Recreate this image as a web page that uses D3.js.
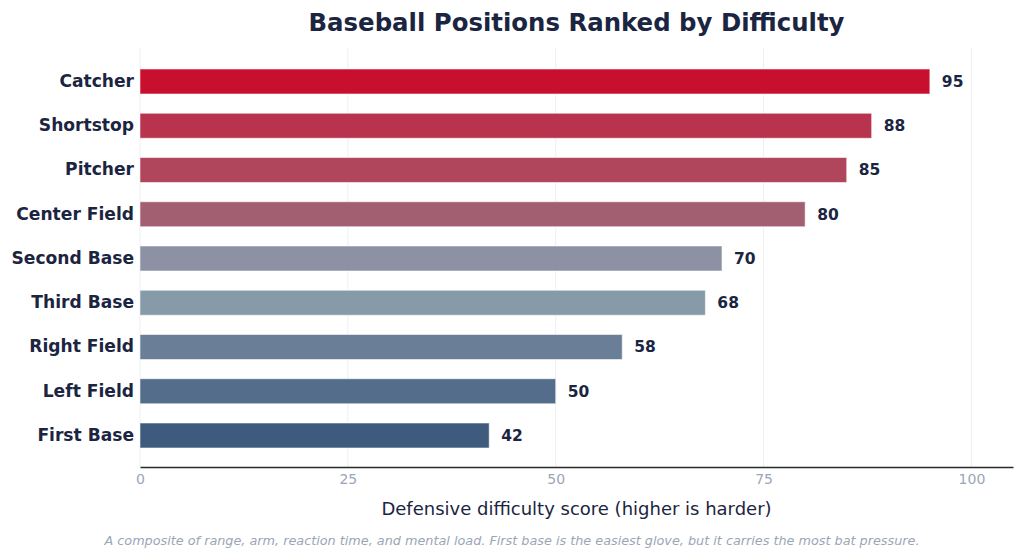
<!DOCTYPE html>
<html><head><meta charset="utf-8">
<script src="https://cdn.jsdelivr.net/npm/d3@7"></script>
<style>body{margin:0;background:#fff}svg{display:block}</style>
</head><body><svg id="c" width="1024" height="560"></svg>
<script>
const categories = ["Catcher","Shortstop","Pitcher","Center Field","Second Base","Third Base","Right Field","Left Field","First Base"];
const values = [95,88,85,80,70,68,58,50,42];
const colors = ["#C8102E","#B8344E","#AF465C","#A35F72","#8C91A3","#879AA8","#6A7F97","#536D8A","#3E5B7E"];
const xTicks = [0,25,50,75,100];
const titleText = "Baseball Positions Ranked by Difficulty";
const xTitle = "Defensive difficulty score (higher is harder)";
const caption = "A composite of range, arm, reaction time, and mental load. First base is the easiest glove, but it carries the most bat pressure.";

const svg = d3.select("#c");
const L = 140, R = 1013, T = 48, B = 467;
const font = "'DejaVu Sans', sans-serif";
const navy = "#1B2541";

const x = d3.scaleLinear().domain([0,105]).range([L,R]);
const y = d3.scaleBand().domain(categories).range([T+1,B+1]).paddingInner(0.435).paddingOuter(0.452);

// grid
svg.append("g").selectAll("line").data(xTicks).join("line")
  .attr("x1", d=>x(d)).attr("x2", d=>x(d)).attr("y1", T).attr("y2", B)
  .attr("stroke", "#EDEFF3").attr("stroke-width", 1);

// bars
svg.append("g").selectAll("rect").data(categories).join("rect")
  .attr("x", x(0)).attr("y", d=>y(d))
  .attr("width", (d,i)=>x(values[i])-x(0)).attr("height", y.bandwidth())
  .attr("fill", (d,i)=>colors[i])
  .attr("stroke", "rgba(255,255,255,0.55)").attr("stroke-width", 1);

// value labels
svg.append("g").selectAll("text").data(categories).join("text")
  .attr("x", (d,i)=>x(values[i])+12).attr("y", d=>y(d)+y.bandwidth()/2)
  .attr("dy", "0.35em").attr("font-family", font).attr("font-weight", "bold")
  .attr("font-size", 15.5).attr("fill", navy).text((d,i)=>values[i]);

// y axis labels
const ya = svg.append("g").attr("transform", `translate(${L},0)`)
  .call(d3.axisLeft(y).tickSize(0).tickPadding(6));
ya.select(".domain").remove();
ya.selectAll("text").attr("font-family", font).attr("font-weight", "bold")
  .attr("font-size", 17.1).attr("fill", navy);

// x axis
const xa = svg.append("g").attr("transform", `translate(0,${B})`)
  .call(d3.axisBottom(x).tickValues(xTicks).tickSize(0).tickPadding(7));
xa.select(".domain").attr("stroke", "#2a2a2a").attr("stroke-width", 1.5);
xa.selectAll("text").attr("font-family", font).attr("font-size", 14).attr("fill", "#9AA6B8");

// title
svg.append("text").attr("x", (L+R)/2).attr("y", 31).attr("text-anchor", "middle")
  .attr("font-family", font).attr("font-weight", "bold").attr("font-size", 24.4)
  .attr("fill", navy).text(titleText);

// x title
svg.append("text").attr("x", (L+R)/2).attr("y", 515).attr("text-anchor", "middle")
  .attr("font-family", font).attr("font-size", 18).attr("fill", navy).text(xTitle);

// caption
svg.append("text").attr("x", 512).attr("y", 545).attr("text-anchor", "middle")
  .attr("font-family", font).attr("font-style", "italic").attr("font-size", 12.8)
  .attr("fill", "#9AA6B6").text(caption);
</script></body></html>
